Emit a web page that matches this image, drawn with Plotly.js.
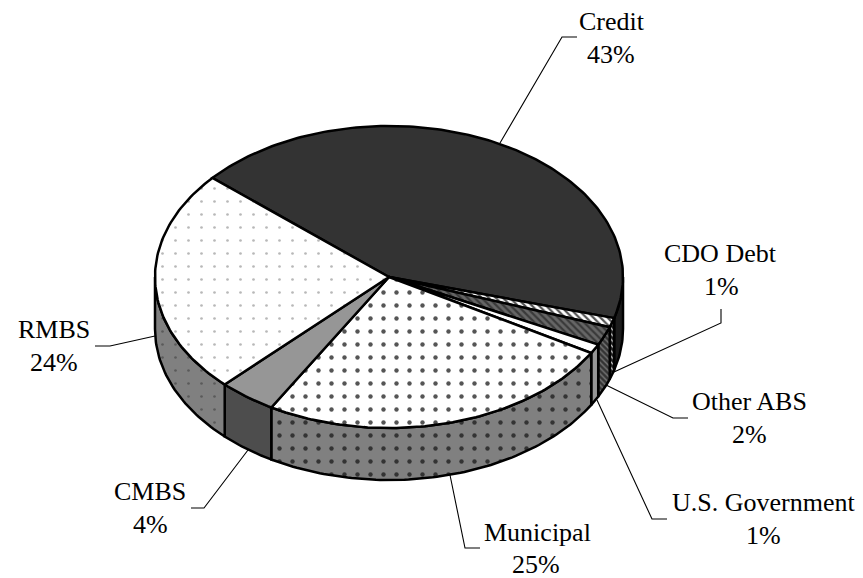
<!DOCTYPE html>
<html>
<head>
<meta charset="utf-8">
<script src="https://cdn.plot.ly/plotly-3.0.1.min.js"></script>
<style>html,body{margin:0;padding:0;background:#fff}#c{width:863px;height:578px}</style>
</head>
<body>
<div id="c"></div>
<script>
var sliceNames = ["Credit", "CDO Debt", "Other ABS", "U.S. Government", "Municipal", "CMBS", "RMBS"];
var sliceValues = [43, 1, 2, 1, 25, 4, 24];
var valueLabels = ["43%", "1%", "2%", "1%", "25%", "4%", "24%"];

var topStyles = [
  {bg:"#333333"},
  {bg:"#ffffff", fg:"#555555", shape:"\\", size:5, solidity:0.45},
  {bg:"#666666", fg:"#3a3a3a", shape:"\\", size:5, solidity:0.45},
  {bg:"#ffffff"},
  {bg:"#ffffff", fg:"#555555", shape:".", size:13, solidity:0.09},
  {bg:"#969696"},
  {bg:"#ffffff", fg:"#b8b8b8", shape:".", size:13, solidity:0.035}
];
var sideStyles = [
  {bg:"#1c1c1c"},
  {bg:"#1c1c1c", fg:"#cccccc", shape:"\\", size:4, solidity:0.3},
  {bg:"#333333", fg:"#777777", shape:"\\", size:4, solidity:0.35},
  {bg:"#969696"},
  {bg:"#808080", fg:"#333333", shape:".", size:13, solidity:0.09},
  {bg:"#4d4d4d"},
  {bg:"#808080", fg:"#5a5a5a", shape:".", size:13, solidity:0.035}
];
var labelPos = [
  [612,21,611,54],[720,253,721,286],[749,401,749,434],[763,502,763,535],
  [537,532,536,564],[150,491,150,524],[54,329,54,362]
];
var leaders = [
  [[500,143],[562,37],[577,37]],
  [[614,372],[721,323],[721,309]],
  [[606,385],[673,418],[688,418]],
  [[597,400],[652,519],[667,519]],
  [[450,475],[465,548],[480,548]],
  [[248,450],[204,508],[191,508]],
  [[155,336],[110,346],[95,346]]
];

var cx = 389, cy = 277, rx = 234, ry = 151, depth = 52, startDeg = -49;
var total = sliceValues.reduce(function(a,b){return a+b;},0);
function rimX(d){return cx + rx*Math.sin(d*Math.PI/180);}
function rimY(d){return cy - ry*Math.cos(d*Math.PI/180);}
function arc(a,b){var n=Math.max(2,Math.ceil(Math.abs(b-a))),o=[];for(var i=0;i<=n;i++){o.push(a+(b-a)*i/n);}return o;}
function pattern(s){
  if(!s.shape) return undefined;
  return {shape:s.shape,size:s.size,solidity:s.solidity,fgcolor:s.fg,bgcolor:s.bg,fillmode:"replace"};
}
function poly(xs,ys,s,w){
  var t={type:"scatter",mode:"lines",x:xs,y:ys,fill:"toself",fillcolor:s.bg,
    line:{color:"#000",width:w,shape:"linear"},hoverinfo:"skip",showlegend:false};
  var p=pattern(s); if(p) t.fillpattern=p;
  return t;
}
var traces=[], bounds=[], acc=startDeg;
sliceValues.forEach(function(v){var a=acc; acc+=v/total*360; bounds.push([a,acc]);});

bounds.forEach(function(b,i){
  var a=Math.max(b[0],90), e=Math.min(b[1],270);
  if(e<=a) return;
  var ds=arc(a,e), xs=[], ys=[];
  ds.forEach(function(d){xs.push(rimX(d));ys.push(rimY(d));});
  ds.slice().reverse().forEach(function(d){xs.push(rimX(d));ys.push(rimY(d)+depth);});
  xs.push(xs[0]);ys.push(ys[0]);
  traces.push(poly(xs,ys,sideStyles[i],2.5));
});
bounds.forEach(function(b,i){
  var xs=[cx], ys=[cy];
  arc(b[0],b[1]).forEach(function(d){xs.push(rimX(d));ys.push(rimY(d));});
  xs.push(cx);ys.push(cy);
  traces.push(poly(xs,ys,topStyles[i],2.5));
});

var font={family:"Liberation Serif, Times New Roman, serif",size:26,color:"#000"};
var annotations=[];
sliceNames.forEach(function(n,i){
  var p=labelPos[i];
  annotations.push({x:p[0],y:p[1],xref:"x",yref:"y",text:n,showarrow:false,font:font,xanchor:"center",yanchor:"middle"});
  annotations.push({x:p[2],y:p[3],xref:"x",yref:"y",text:valueLabels[i],showarrow:false,font:font,xanchor:"center",yanchor:"middle"});
});
var shapes=leaders.map(function(l){
  return {type:"path",xref:"x",yref:"y",layer:"below",
    path:"M"+l[0][0]+","+l[0][1]+" L"+l[1][0]+","+l[1][1]+" L"+l[2][0]+","+l[2][1],
    line:{color:"#000",width:1.1}};
});
var hidden={range:[0,863],visible:false,fixedrange:true};
Plotly.newPlot("c",traces,{
  width:863,height:578,margin:{l:0,r:0,t:0,b:0},paper_bgcolor:"#fff",plot_bgcolor:"#fff",showlegend:false,
  xaxis:hidden,
  yaxis:{range:[578,0],visible:false,fixedrange:true},
  annotations:annotations,shapes:shapes
},{displayModeBar:false,staticPlot:true});
</script>
</body>
</html>
